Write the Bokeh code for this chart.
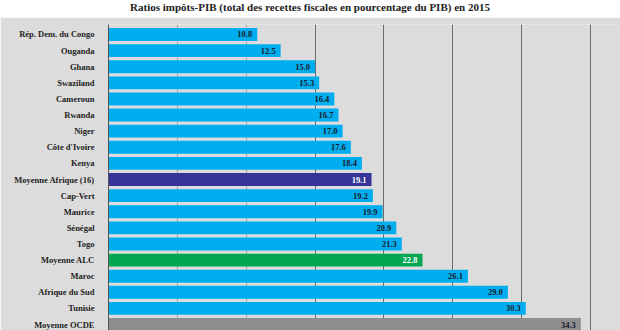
from bokeh.plotting import figure
from bokeh.models import ColumnDataSource, FixedTicker, Range1d, Div, Grid
from bokeh.layouts import column
from bokeh.embed import file_html
from bokeh.resources import INLINE
from bokeh.core.properties import value

title = "Ratios impôts-PIB (total des recettes fiscales en pourcentage du PIB) en 2015"

countries = [
    "Rép. Dem. du Congo", "Ouganda", "Ghana", "Swaziland", "Cameroun", "Rwanda",
    "Niger", "Côte d'Ivoire", "Kenya", "Moyenne Afrique (16)", "Cap-Vert", "Maurice",
    "Sénégal", "Togo", "Moyenne ALC", "Maroc", "Afrique du Sud", "Tunisie", "Moyenne OCDE",
]
ratios = [10.8, 12.5, 15.0, 15.3, 16.4, 16.7, 17.0, 17.6, 18.4, 19.1, 19.2, 19.9,
          20.9, 21.3, 22.8, 26.1, 29.0, 30.3, 34.3]
grid_ticks_light = [5, 10]
grid_ticks_dark = [15, 20, 25, 30, 35]

highlight = {"Moyenne Afrique (16)": "#333399", "Moyenne ALC": "#00a651", "Moyenne OCDE": "#8e8e8e"}
white_text = {"Moyenne Afrique (16)", "Moyenne ALC"}
colors = [highlight.get(c, "#00aeef") for c in countries]
text_colors = ["#ffffff" if c in white_text else "#1a1a2a" for c in countries]
labels = [f"{v:.1f}" for v in ratios]
pos = list(range(len(countries)))

src = ColumnDataSource(dict(y=pos, v=ratios, c=colors, tc=text_colors, lab=labels))

SERIF = "Liberation Serif"
BG = "#dcdcdc"

p = figure(width=620, height=313, output_backend="svg", toolbar_location=None,
           x_range=Range1d(0, 37.18), y_range=Range1d(18.37, -0.62),
           x_axis_location=None,
           min_border_top=7, min_border_bottom=0, min_border_right=0, min_border_left=108)
p.background_fill_color = BG
p.border_fill_color = BG
p.outline_line_color = None
p.ygrid.visible = False
p.xgrid.visible = False

p.add_layout(Grid(dimension=0, ticker=FixedTicker(ticks=grid_ticks_light),
                  grid_line_color="#a4a4a4", grid_line_width=1))
p.add_layout(Grid(dimension=0, ticker=FixedTicker(ticks=grid_ticks_dark),
                  grid_line_color="#6a6a6a", grid_line_width=1))

p.hbar(y="y", left=0, right="v", height=0.8, fill_color="c", line_color=None, source=src)
p.text(x="v", y="y", text="lab", text_color="tc", text_align="right",
       text_baseline="middle", x_offset=-5, text_font=value(SERIF),
       text_font_style="bold", text_font_size="8.5px", source=src)

ax = p.yaxis[0]
ax.ticker = FixedTicker(ticks=pos)
ax.major_label_overrides = {i: name for i, name in zip(pos, countries)}
ax.axis_line_color = "#555555"
ax.major_tick_line_color = None
ax.minor_tick_line_color = None
ax.major_label_standoff = 8
ax.major_label_text_font = SERIF
ax.major_label_text_font_style = "bold"
ax.major_label_text_font_size = "8.5px"
ax.major_label_text_color = "#222222"

div = Div(text=('<div style="font-family:\'Liberation Serif\';font-weight:bold;font-size:11px;'
                'line-height:11px;color:#222;text-align:center;white-space:nowrap;'
                'position:relative;top:-1px;width:620px">' + title + '</div>'),
          width=620, height=17, margin=0,
          styles={"background-color": "white", "overflow": "hidden"})

layout = column(div, p, spacing=0)
open("out.html", "w").write(file_html(layout, INLINE))
